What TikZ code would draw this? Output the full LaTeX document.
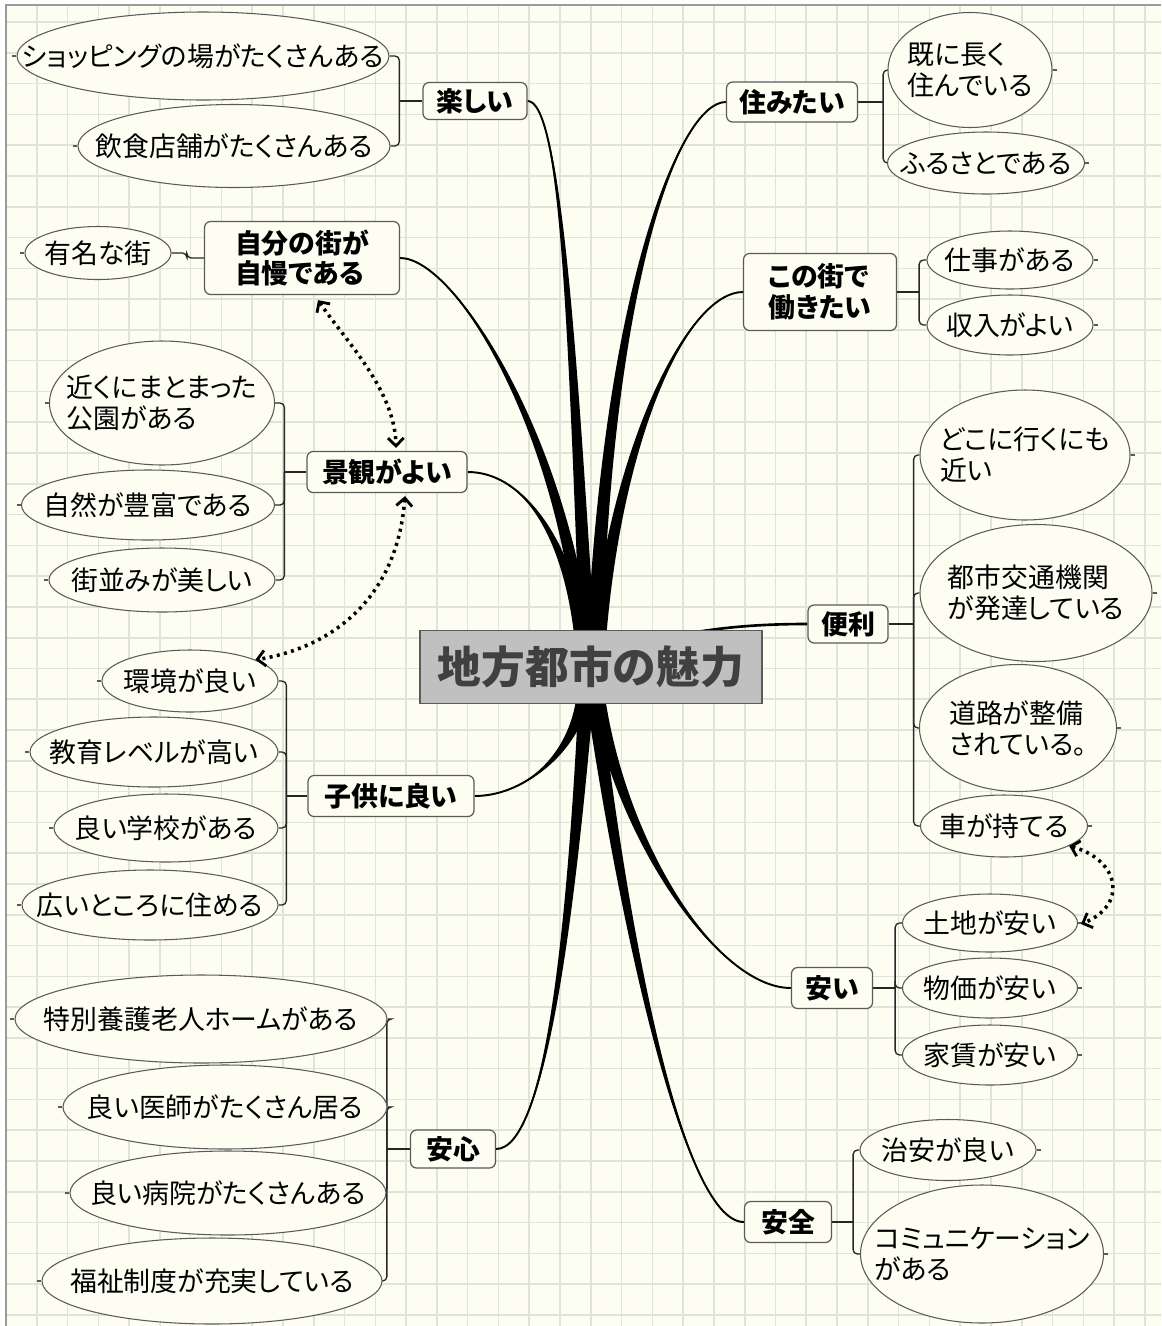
\documentclass[tikz,border=0pt]{standalone}
\usepackage{fontspec}
\newfontfamily\jp{Noto Sans CJK JP}[RawFeature=+palt]
\newfontfamily\jpc{Noto Sans CJK JP}
\usetikzlibrary{shapes.geometric,arrows.meta,calc}
\definecolor{bgc}{HTML}{FDFDF1}
\definecolor{gridc}{HTML}{DCE5D8}
\definecolor{edgec}{HTML}{5A5A5A}
\definecolor{framec}{HTML}{9A9A9A}
\definecolor{hubfill}{HTML}{C0C0C0}
\definecolor{hubtext}{HTML}{404040}
\pgfdeclarelayer{gridlayer}
\pgfdeclarelayer{linklayer}
\pgfsetlayers{gridlayer,linklayer,main}
\tikzset{
  lsz/.style 2 args={minimum width=#1*0.02cm, minimum height=#2*0.02cm},
  leafshape/.style={ellipse, draw=edgec, line width=0.6pt, fill=bgc, inner sep=0pt},
  leaftext/.style={inner sep=0pt, align=left, font=\jp\fontsize{15.3pt}{17.6pt}\selectfont},
  topic/.style={rectangle, rounded corners=3.5pt, draw=edgec, line width=0.7pt, fill=bgc,
    inner sep=0pt, align=left, font=\jp\bfseries\fontsize{15.3pt}{17.6pt}\selectfont},
  conn/.style={draw=black!85, line width=0.75pt, rounded corners=2.5pt},
  stub/.style={draw=edgec, line width=0.6pt},
  rel/.style={line width=2pt, dash pattern=on 1.7pt off 2.5pt, line cap=butt,
    {Straight Barb[length=4.5pt,width=9pt,line width=1.6pt]}-{Straight Barb[length=4.5pt,width=9pt,line width=1.6pt]}},
}
\newcommand\taper[5]{%
  \fill[black] (#1) .. controls (#2) and ($(#3)+(-0.5*#5,0)$) .. ($(#4)+(-#5,0)$)
     -- ($(#4)+(#5,0)$) .. controls ($(#3)+(0.5*#5,0)$) and (#2) .. (#1) -- cycle;
  \draw[black, line width=1.1pt] (#1) .. controls (#2) and (#3) .. (#4);}
\newcommand\leafnode[5]{%
  \node[leafshape, lsz={#3}{#4}] (#1) at (#2) {};
  \node[leaftext] (#1-t) at (#1.center) {#5};}
\begin{document}
\begin{tikzpicture}[x=0.02cm, y=-0.02cm]
\useasboundingbox (0,0) rectangle (1161,1326);
\begin{pgfonlayer}{gridlayer}
  \fill[white] (0,0) rectangle (1161,1326);
  \fill[bgc] (6,5) rectangle (1161,1326);
  \foreach \i in {1,...,37} \draw[gridc, line width=0.9pt] ({6+\i*30.78},5) -- ({6+\i*30.78},1326);
  \foreach \j in {0,...,42} \draw[gridc, line width=0.9pt] (6,{22.1+\j*30.78}) -- (1161,{22.1+\j*30.78});
  \draw[framec, line width=1pt] (6,1326) -- (6,5) -- (1161,5);
\end{pgfonlayer}

% central topic
\node[draw=edgec, fill=hubfill, line width=0.8pt, lsz={342}{73}, inner sep=0pt,
  font=\jpc\bfseries\fontsize{24.9pt}{30pt}\selectfont, text=hubtext] (hub) at (591,667) {地方都市の魅力};

% left topics and leaves
\node[topic, lsz={104}{37}] (tanoshii) at (475,101) {楽しい};
\leafnode{shop}{203,56}{372}{88}{ショッピングの場がたくさんある}
\leafnode{food}{234,146}{312}{83}{飲食店舗がたくさんある}

\node[topic, lsz={195}{73}] (jiman) at (302,258) {自分の街が\\自慢である};
\leafnode{yumei}{98,253}{146}{53}{有名な街}

\node[topic, lsz={160}{41}] (keikan) at (387,472) {景観がよい};
\leafnode{park}{162,403}{225}{124}{近くにまとまった\\公園がある}
\leafnode{nature}{148,505}{253}{70}{自然が豊富である}
\leafnode{street}{162,580}{226}{64}{街並みが美しい}

\node[topic, lsz={166}{41}] (kodomo) at (391,796) {子供に良い};
\leafnode{kankyo}{190,681}{176}{62}{環境が良い}
\leafnode{kyoiku}{154,752}{248}{70}{教育レベルが高い}
\leafnode{gakko}{166,828}{224}{68}{良い学校がある}
\leafnode{hiroi}{150,905}{256}{70}{広いところに住める}

\node[topic, lsz={85}{38}] (anshin) at (453,1149) {安心};
\leafnode{home}{201,1019}{372}{88}{特別養護老人ホームがある}
\leafnode{ishi}{225,1107}{324}{84}{良い医師がたくさん居る}
\leafnode{byoin}{228,1193}{316}{84}{良い病院がたくさんある}
\leafnode{fukushi}{212,1281}{340}{86}{福祉制度が充実している}

% right topics and leaves
\node[topic, lsz={131}{40}] (sumitai) at (792,102) {住みたい};
\leafnode{sunde}{970,70}{164}{115}{既に長く\\住んでいる}
\leafnode{furusato}{986,163}{197}{62}{ふるさとである}

\node[topic, lsz={153}{77}] (hataraki) at (820,292) {この街で\\働きたい};
\leafnode{shigoto}{1010,260}{166}{58}{仕事がある}
\leafnode{shunyu}{1010,325}{166}{60}{収入がよい}

\node[topic, lsz={80}{38}] (benri) at (848,624) {便利};
\leafnode{doko}{1025,455}{210}{130}{どこに行くにも\\近い}
\leafnode{toshi}{1036,593}{232}{137}{都市交通機関\\が発達している}
\leafnode{doro}{1018,728}{197}{127}{道路が整備\\されている。}
\leafnode{kuruma}{1004,826}{167}{62}{車が持てる}

\node[topic, lsz={81}{41}] (yasui) at (832,988) {安い};
\leafnode{tochi}{990,923}{175}{58}{土地が安い}
\leafnode{bukka}{990,988}{175}{60}{物価が安い}
\leafnode{yachin}{990,1055}{175}{60}{家賃が安い}

\node[topic, lsz={87}{41}] (anzen) at (788,1222) {安全};
\leafnode{chian}{948,1150}{176}{61}{治安が良い}
\leafnode{comm}{982,1254}{243}{138}{コミュニケーション\\がある}

% end points on the central topic
\coordinate (eJ) at ($(hub.north)+(-8,4)$);
\coordinate (eT) at ($(hub.north)+(-4,4)$);
\coordinate (eK) at ($(hub.north)+(-10,4)$);
\coordinate (eS) at ($(hub.north)+(4,4)$);
\coordinate (eH) at ($(hub.north)+(8,4)$);
\coordinate (eB) at ($(hub.center)+(0,-10)$);
\coordinate (eC) at ($(hub.south)+(-8,-4)$);
\coordinate (eA) at ($(hub.south)+(-5,-4)$);
\coordinate (eY) at ($(hub.south)+(7,-4)$);
\coordinate (eZ) at ($(hub.south)+(3,-4)$);

\begin{pgfonlayer}{linklayer}
  % tapered main branches
  \taper{tanoshii.east}{560,101}{572,330}{eT}{7.5}
  \taper{jiman.east}{455,258}{560,430}{eJ}{7.5}
  \taper{keikan.east}{520,472}{565,530}{eK}{7}
  \taper{sumitai.west}{680,102}{610,280}{eS}{7.5}
  \taper{hataraki.west}{690,292}{620,430}{eH}{7.5}
  \draw[black, line width=1.5pt] (eB) .. controls (680,630) and (740,624) .. (benri.west);
  \taper{kodomo.east}{520,796}{570,760}{eC}{7}
  \taper{anshin.east}{548,1149}{572,900}{eA}{7.5}
  \taper{yasui.west}{720,988}{625,850}{eY}{7.5}
  \taper{anzen.west}{680,1222}{620,900}{eZ}{7.5}

  % brackets, left side
  \coordinate (bT) at ($(tanoshii.west)+(-23,0)$);
  \draw[conn] (tanoshii.west) -- (bT);
  \draw[conn] (bT) |- (shop.east);
  \draw[conn] (bT) |- (food.east);
  \coordinate (bJ) at ($(jiman.west)+(-17,0)$);
  \draw[conn] (jiman.west) -- (bJ) |- (yumei.east);
  \coordinate (bK) at ($(keikan.west)+(-22,0)$);
  \draw[conn] (keikan.west) -- (bK);
  \draw[conn] (bK) |- (park.east);
  \draw[conn] (bK) |- (nature.east);
  \draw[conn] (bK) |- (street.east);
  \coordinate (bC) at ($(kodomo.west)+(-21,0)$);
  \draw[conn] (kodomo.west) -- (bC);
  \draw[conn] (bC) |- (kankyo.east);
  \draw[conn] (bC) |- (kyoiku.east);
  \draw[conn] (bC) |- (gakko.east);
  \draw[conn] (bC) |- (hiroi.east);
  \coordinate (bA) at ($(anshin.west)+(-23,0)$);
  \draw[conn] (anshin.west) -- (bA);
  \draw[conn] (bA) |- (home.east);
  \draw[conn] (bA) |- (ishi.east);
  \draw[conn] (bA) |- (byoin.east);
  \draw[conn] (bA) |- (fukushi.east);
  % brackets, right side
  \coordinate (bS) at ($(sumitai.east)+(25,0)$);
  \draw[conn] (sumitai.east) -- (bS);
  \draw[conn] (bS) |- (sunde.west);
  \draw[conn] (bS) |- (furusato.west);
  \coordinate (bH) at ($(hataraki.east)+(22,0)$);
  \draw[conn] (hataraki.east) -- (bH);
  \draw[conn] (bH) |- (shigoto.west);
  \draw[conn] (bH) |- (shunyu.west);
  \coordinate (bB) at ($(benri.east)+(25,0)$);
  \draw[conn] (benri.east) -- (bB);
  \draw[conn] (bB) |- (doko.west);
  \draw[conn] (bB) |- (toshi.west);
  \draw[conn] (bB) |- (doro.west);
  \draw[conn] (bB) |- (kuruma.west);
  \coordinate (bY) at ($(yasui.east)+(22,0)$);
  \draw[conn] (yasui.east) -- (bY);
  \draw[conn] (bY) |- (tochi.west);
  \draw[conn] (bY) |- (bukka.west);
  \draw[conn] (bY) |- (yachin.west);
  \coordinate (bZ) at ($(anzen.east)+(21,0)$);
  \draw[conn] (anzen.east) -- (bZ);
  \draw[conn] (bZ) |- (chian.west);
  \draw[conn] (bZ) |- (comm.west);
\end{pgfonlayer}

% stubs on the outer side of leaves
\foreach \n in {shop,food,yumei,park,nature,street,kankyo,kyoiku,gakko,hiroi,home,ishi,byoin,fukushi}
  \draw[stub] (\n.west) -- ++(-4,0);
\foreach \n in {sunde,furusato,shigoto,shunyu,doko,toshi,doro,kuruma,tochi,bukka,yachin,chian,comm}
  \draw[stub] (\n.east) -- ++(4,0);

% relations
\draw[rel] ($(jiman.south)+(16,5)$) .. controls (345,340) and (395,390) .. ($(keikan.north)+(9,-3)$);
\draw[rel] ($(keikan.south)+(18,3)$) .. controls (397,600) and (330,648) .. (kankyo.18);
\draw[rel] (kuruma.-17) .. controls (1120,860) and (1128,905) .. ($(tochi.east)+(3,1)$);
\end{tikzpicture}
\end{document}
